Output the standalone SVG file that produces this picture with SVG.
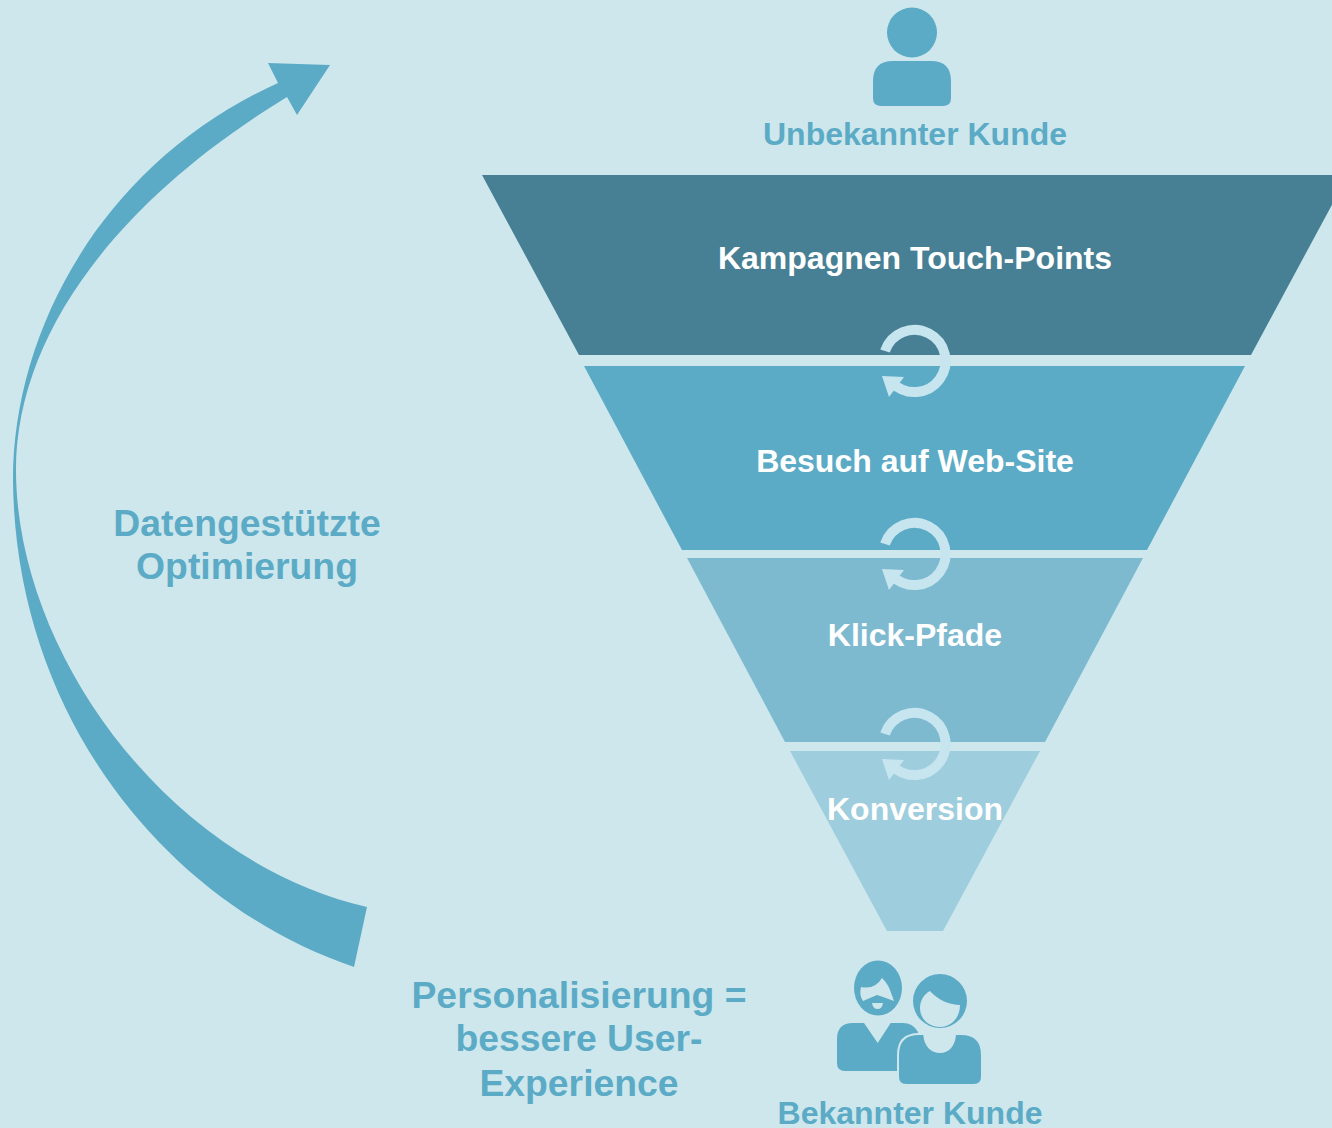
<svg xmlns="http://www.w3.org/2000/svg" width="1332" height="1128" viewBox="0 0 1332 1128">
<style>
text{font-family:"Liberation Sans",Arial,sans-serif;font-weight:700;text-anchor:middle}
.lbl{fill:#5cabc6;font-size:32px}
.big{fill:#5cabc6;font-size:37.330px}
.in{fill:#fff;font-size:32px}
.p{fill:#5cabc6}
.bg{fill:#cee7ec}
.ring{fill:none;stroke:#c6e5ef;stroke-width:10}
.head{fill:#c6e5ef}
</style>
<defs>
<g id="cycle"><path class="ring" d="M-29.500 -10A31.100 31.100 0 1 1 -22 22"/><polygon class="head" points="-32.500,15 -10.500,16 -25.500,36"/></g>
</defs>
<rect width="1332" height="1128" fill="#cee7ec"/>
<g id="connectors">
<path id="loop-arrow" class="p" d="M354 967C170 905 15 720 13 480C13 330 103 162 278 83L268 63L330 65L297 115L287 97C110 205 16 340 16 470C16 650 165 860 367 907Z"/>
</g>
<g id="stage-1"><polygon fill="#478094" points="482,175 1348,175 1251,355 579,355"/><text class="in" x="915" y="269">Kampagnen Touch-Points</text></g>
<g id="stage-2"><polygon fill="#5cabc6" points="584,366 1245,366 1147,550 682,550"/><text class="in" x="915" y="472">Besuch auf Web-Site</text></g>
<g id="stage-3"><polygon fill="#7dbad0" points="687,558 1143,558 1045,742 785,742"/><text class="in" x="915" y="646">Klick-Pfade</text></g>
<g id="stage-4"><polygon fill="#9ecddd" points="790,751 1040,751 943,931 887,931"/><text class="in" x="915" y="820">Konversion</text></g>
<g id="cycle-1"><use href="#cycle" x="914.500" y="361"/></g>
<g id="cycle-2"><use href="#cycle" x="914.500" y="554"/></g>
<g id="cycle-3"><use href="#cycle" x="914.500" y="744"/></g>
<g id="unknown-customer">
<circle class="p" cx="912" cy="32.500" r="25"/>
<path class="p" d="M893 61H931Q951 61 951 81V98Q951 106 943 106H881Q873 106 873 98V81Q873 61 893 61Z"/>
<text class="lbl" x="915" y="145">Unbekannter Kunde</text>
</g>
<g id="known-customer">
<ellipse class="p" cx="878" cy="988" rx="24" ry="27.500"/>
<path class="bg" d="M861 987Q875 990 882 978Q888 984 890 990L894 1001L883 997L877 995L870 998L863 1001Q859 995 861 987Z"/>
<path class="bg" d="M872 1003H883Q882 1009 877.500 1009Q873 1009 872 1003Z"/>
<path class="p" d="M853 1023H864L877.700 1043L890.700 1023H903Q913 1023 918 1032V1071H845Q837 1071 837 1063V1039Q837 1023 853 1023Z"/>
<circle class="p" cx="940" cy="1001" r="27"/>
<path class="bg" d="M930 991C938 1000 950 1005 960 1005C960 1018 951 1027 940 1027C929 1027 920 1019 920 1008C920 1001 924 994 930 991Z"/>
<path class="p" d="M919 1035H923.300C924 1046 931 1053 940 1053C949 1053 955 1046 956 1035H961Q981 1035 981 1055V1077Q981 1084 974 1084H906Q899 1084 899 1077V1055Q899 1035 919 1035Z" stroke="#cee7ec" stroke-width="4" paint-order="stroke"/>
<text class="lbl" x="910" y="1124">Bekannter Kunde</text>
</g>
<g id="label-optimierung"><text class="big" x="247" y="536">Datengestützte</text><text class="big" x="247" y="579">Optimierung</text></g>
<g id="label-personalisierung"><text class="big" x="579" y="1008">Personalisierung =</text><text class="big" x="579" y="1051">bessere User-</text><text class="big" x="579" y="1096">Experience</text></g>
</svg>
